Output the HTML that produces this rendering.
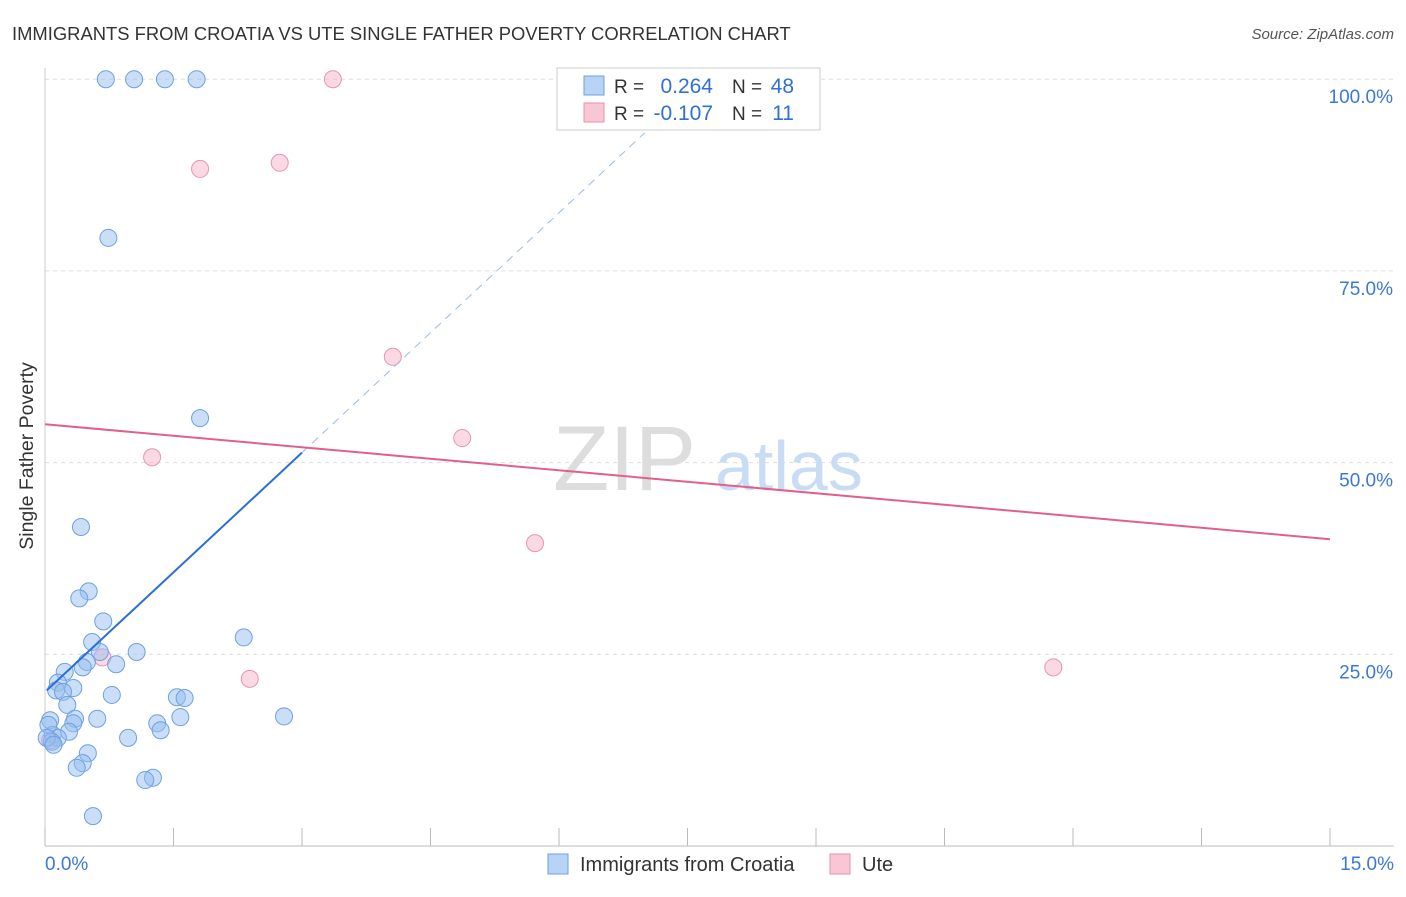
<!DOCTYPE html>
<html><head><meta charset="utf-8"><style>
body{margin:0;background:#fff;font-family:"Liberation Sans",sans-serif;}
svg text{font-family:"Liberation Sans",sans-serif;}
</style></head><body>
<svg id="chart" width="1406" height="892" xmlns="http://www.w3.org/2000/svg">
<text x="12" y="40" font-size="18.4" fill="#333">IMMIGRANTS FROM CROATIA VS UTE SINGLE FATHER POVERTY CORRELATION CHART</text>
<text x="1394" y="39" font-size="15" fill="#555" text-anchor="end" font-style="italic">Source: ZipAtlas.com</text>
<text transform="translate(33,456) rotate(-90)" font-size="19.5" fill="#333" text-anchor="middle">Single Father Poverty</text>
<g id="grid"></g>
<text x="553" y="490" font-size="92" fill="#ddd" font-family="Liberation Serif">ZIP</text>
<text x="715" y="490" font-size="70" fill="#c8dcf4">atlas</text>
<g id="marks"></g>
<g>
<rect x="557" y="68" width="263" height="62" fill="#fff" stroke="#ccc"/>
<rect x="584" y="76" width="20" height="19" fill="#b8d3f5" stroke="#6fa0e0"/>
<rect x="584" y="103" width="20" height="19" fill="#f9c6d4" stroke="#e890a8"/>
<text x="614" y="93" font-size="19" fill="#333">R =</text>
<text x="713" y="93" font-size="21" fill="#2f6fd6" text-anchor="end">0.264</text>
<text x="732" y="93" font-size="19" fill="#333">N =</text>
<text x="794" y="93" font-size="21" fill="#2f6fd6" text-anchor="end">48</text>
<text x="614" y="120" font-size="19" fill="#333">R =</text>
<text x="713" y="120" font-size="21" fill="#2f6fd6" text-anchor="end">-0.107</text>
<text x="732" y="120" font-size="19" fill="#333">N =</text>
<text x="794" y="120" font-size="21" fill="#2f6fd6" text-anchor="end">11</text>
</g>
<g>
<rect x="548" y="854" width="20" height="20" fill="#b8d3f5" stroke="#6fa0e0"/>
<text x="580" y="871" font-size="20" fill="#333">Immigrants from Croatia</text>
<rect x="830" y="854" width="20" height="20" fill="#f9c6d4" stroke="#e890a8"/>
<text x="862" y="871" font-size="20" fill="#333">Ute</text>
</g>
</svg>
<script>
const yTicks=[25,50,75,100];
const xTickLabels=["0.0%","15.0%"];
const blueX=[0.71,1.04,1.40,1.77,0.74,1.81,0.42,0.51,0.40,0.68,0.55,2.32,1.07,0.64,0.83,0.49,0.44,0.23,0.15,0.33,0.13,0.21,0.78,1.54,1.63,0.26,1.58,2.79,0.61,0.35,0.33,1.31,0.06,1.35,0.28,0.09,0.97,0.15,0.08,0.50,0.44,0.37,1.26,1.17,0.56,0.04,0.02,0.10];
const blueY=[100,100,100,100,79.3,55.8,41.6,33.2,32.3,29.3,26.6,27.2,25.3,25.3,23.7,24.0,23.3,22.7,21.3,20.6,20.3,20.1,19.7,19.4,19.3,18.4,16.8,16.9,16.6,16.6,16.0,16.0,16.4,15.1,14.9,14.5,14.1,14.1,13.6,12.1,10.8,10.2,8.9,8.6,3.9,15.8,14.1,13.2];
const pinkX=[3.36,1.81,2.74,4.06,4.87,1.25,5.72,2.39,11.77,0.67,0.06];
const pinkY=[100,88.3,89.1,63.8,53.2,50.7,39.5,21.8,23.3,24.6,13.8];
const blueTrend=[[0.02,20.3],[3.0,51.3]];
const blueDash=[[3.0,51.3],[7.0,93.0]];
const pinkTrend=[[0,55.0],[15,40.0]];
const X=v=>45+v/15*1285, Y=v=>846-v*7.668;
const NS="http://www.w3.org/2000/svg";
const grid=document.getElementById('grid'), marks=document.getElementById('marks');
function el(t,a,p){const e=document.createElementNS(NS,t);for(const k in a)e.setAttribute(k,a[k]);p.appendChild(e);return e;}
yTicks.forEach(t=>{
 const l=el('line',{x1:45,x2:1394,y1:Y(t),y2:Y(t),stroke:'#ddd','stroke-dasharray':'4,4'},grid);
 
 
 const tx=el('text',{x:1393,y:Y(t)+24,'font-size':19,fill:'#3b78d8','text-anchor':'end'},grid);
 tx.textContent=t.toFixed(1)+'%';
 
 
});
const ax=el('line',{x1:45,x2:1394,y1:846,y2:846,stroke:'#bbb'},grid);


const ay=el('line',{x1:45,x2:45,y1:68,y2:846,stroke:'#ccc'},grid);


for(let i=0;i<=10;i++){const t=el('line',{x1:X(i*1.5),x2:X(i*1.5),y1:828,y2:846,stroke:'#bbb'},grid);
 
 }
[[0,'start',45],[1,'end',1394]].forEach(([i,a,x])=>{const t=el('text',{x:x,y:870,'font-size':19,fill:'#3b78d8','text-anchor':a},grid);t.textContent=xTickLabels[i];
 
 });
pinkX.forEach((v,i)=>{const c=el('circle',{cx:X(v),cy:Y(pinkY[i]),r:8.5,fill:'rgba(245,170,195,0.45)',stroke:'#e895ad','stroke-width':1},marks);
 
 });
blueX.forEach((v,i)=>{const c=el('circle',{cx:X(v),cy:Y(blueY[i]),r:8.5,fill:'rgba(150,190,240,0.5)',stroke:'#6fa0e0','stroke-width':1},marks);
 
 });
const bl=el('line',{x1:X(blueTrend[0][0]),y1:Y(blueTrend[0][1]),x2:X(blueTrend[1][0]),y2:Y(blueTrend[1][1]),stroke:'#2a6fd8','stroke-width':2},marks);


const bd=el('line',{x1:X(blueDash[0][0]),y1:Y(blueDash[0][1]),x2:X(blueDash[1][0]),y2:Y(blueDash[1][1]),stroke:'#9bbbe6','stroke-width':1,'stroke-dasharray':'8,6'},marks);


const pl=el('line',{x1:X(pinkTrend[0][0]),y1:Y(pinkTrend[0][1]),x2:X(pinkTrend[1][0]),y2:Y(pinkTrend[1][1]),stroke:'#e0608a','stroke-width':2},marks);


</script>
</body></html>
